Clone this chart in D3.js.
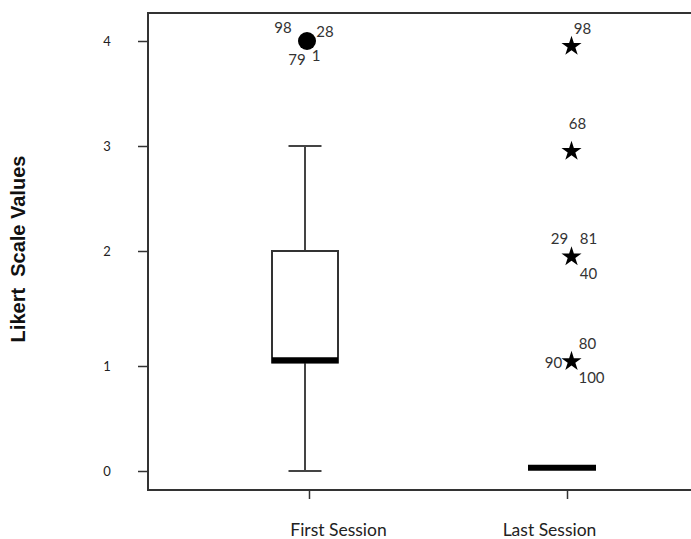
<!DOCTYPE html>
<html>
<head>
<meta charset="utf-8">
<script src="https://cdn.jsdelivr.net/npm/d3@7"></script>
<style>
  html, body { margin: 0; padding: 0; background: #fff; }
  svg { display: block; }
</style>
</head>
<body>
<svg id="chart" width="691" height="539"></svg>
<script>
// ---- data ----
const categories = ["First Session", "Last Session"];
const yTicks = [0, 1, 2, 3, 4];
// box statistics per session: [low whisker, Q1, median, Q3, high whisker]
const firstStats = [0, 1.03, 1.05, 2, 3];
const lastStats = [0.03, 0.03, 0.03, 0.03, 0.03];
// outliers: value and case labels
const firstOutlierValues = [4];
const firstOutlierLabels = [["98", "28", "79", "1"]];
const lastOutlierValues = [3.95, 2.95, 1.95, 1.04];
const lastOutlierLabels = [["98"], ["68"], ["29", "81", "40"], ["80", "90", "100"]];
const yTitle = "Likert  Scale Values";

(function () {
// ---- layout ----
const svg = d3.select("#chart");
const W = 691, H = 539;
const mLeft = 148, mTop = 13, mBottom = 490;
const x = d3.scalePoint().domain(categories).range([148, 728]).padding(0.624);
const y = d3.scaleLinear().domain(yTicks).range([471, 366, 251, 146, 41]);

const ink = "#333";
// label placement offsets relative to each mark (px)
const labelOffsets = {
  "First Session|98": [-24, -14], "First Session|28": [18, -10],
  "First Session|79": [-10, 18], "First Session|1": [9, 14],
  "Last Session|98": [11, -18], "Last Session|68": [6, -28],
  "Last Session|29": [-12, -19], "Last Session|81": [17, -19], "Last Session|40": [17, 16],
  "Last Session|80": [16, -18], "Last Session|90": [-18, 1], "Last Session|100": [20, 16]
};

svg.append("rect").attr("width", W).attr("height", H).attr("fill", "#fff");

// frame (right edge lies beyond the viewport)
svg.append("rect")
  .attr("x", mLeft).attr("y", mTop)
  .attr("width", 560).attr("height", mBottom - mTop)
  .attr("fill", "none").attr("stroke", ink).attr("stroke-width", 2);

// y axis
const yAxis = d3.axisLeft(y).tickValues(yTicks).tickFormat(d3.format("d")).tickSize(10).tickPadding(27);
const gy = svg.append("g").attr("transform", `translate(${mLeft},0)`).call(yAxis);
gy.select(".domain").remove();
gy.selectAll(".tick line").attr("stroke", ink).attr("stroke-width", 1.5);
gy.selectAll(".tick text").attr("fill", "#222").attr("font-family", "Lato, 'Open Sans', sans-serif")
  .attr("font-size", 13).attr("text-anchor", "middle").attr("dx", "-0.3em");

// x axis
const xAxis = d3.axisBottom(x).tickSize(9).tickPadding(25);
const gx = svg.append("g").attr("transform", `translate(0,${mBottom})`).call(xAxis);
gx.select(".domain").remove();
gx.selectAll(".tick line").attr("stroke", ink).attr("stroke-width", 1.5);
const xLabelShift = { "First Session": 29, "Last Session": -18 };
gx.selectAll(".tick text").attr("fill", "#222").attr("font-family", "Lato, 'Open Sans', sans-serif")
  .attr("font-size", 17.5).attr("dx", d => xLabelShift[d]);

// y title
svg.append("text")
  .attr("transform", "translate(25,249) rotate(-90)")
  .attr("text-anchor", "middle")
  .attr("font-family", "'Liberation Sans', Arial, sans-serif")
  .attr("font-weight", "bold").attr("font-size", 20)
  .attr("fill", "#111")
  .style("white-space", "pre")
  .text(yTitle);

// ---- First session box plot ----
const fcx = x("First Session") - 4;
const boxW = 66, capW = 33;
const fs = firstStats;
svg.append("line").attr("x1", fcx).attr("x2", fcx).attr("y1", y(fs[0])).attr("y2", y(fs[1]))
  .attr("stroke", "#444").attr("stroke-width", 2);
svg.append("line").attr("x1", fcx).attr("x2", fcx).attr("y1", y(fs[3])).attr("y2", y(fs[4]))
  .attr("stroke", "#444").attr("stroke-width", 2);
[fs[0], fs[4]].forEach(v => {
  svg.append("line").attr("x1", fcx - capW / 2).attr("x2", fcx + capW / 2)
    .attr("y1", y(v)).attr("y2", y(v)).attr("stroke", "#444").attr("stroke-width", 2);
});
svg.append("rect").attr("x", fcx - boxW / 2).attr("y", y(fs[3]))
  .attr("width", boxW).attr("height", y(fs[1]) - y(fs[3]))
  .attr("fill", "#fff").attr("stroke", ink).attr("stroke-width", 2);
svg.append("line").attr("x1", fcx - boxW / 2).attr("x2", fcx + boxW / 2)
  .attr("y1", y(fs[2])).attr("y2", y(fs[2])).attr("stroke", "#000").attr("stroke-width", 6);

// ---- Last session median line ----
const lcx = x("Last Session") - 5;
svg.append("line").attr("x1", lcx - 34).attr("x2", lcx + 34)
  .attr("y1", y(lastStats[2])).attr("y2", y(lastStats[2]))
  .attr("stroke", "#000").attr("stroke-width", 6);

// ---- outliers ----
const labelFont = "Lato, 'Open Sans', sans-serif";
function drawLabels(cat, px, py, labels) {
  labels.forEach(l => {
    const o = labelOffsets[cat + "|" + l];
    svg.append("text").attr("x", px + o[0]).attr("y", py + o[1])
      .attr("text-anchor", "middle").attr("dominant-baseline", "central")
      .attr("font-family", labelFont).attr("font-size", 15).attr("fill", "#333")
      .text(l);
  });
}

firstOutlierValues.forEach((v, i) => {
  const px = x("First Session") - 2, py = y(v);
  svg.append("circle").attr("cx", px).attr("cy", py).attr("r", 9).attr("fill", "#000");
  drawLabels("First Session", px, py, firstOutlierLabels[i]);
});

const star = d3.symbol().type(d3.symbolStar).size(125);
lastOutlierValues.forEach((v, i) => {
  const px = x("Last Session") + 4.5, py = y(v);
  svg.append("path").attr("d", star()).attr("transform", `translate(${px},${py})`).attr("fill", "#000");
  drawLabels("Last Session", px, py, lastOutlierLabels[i]);
});
})();
</script>
</body>
</html>
